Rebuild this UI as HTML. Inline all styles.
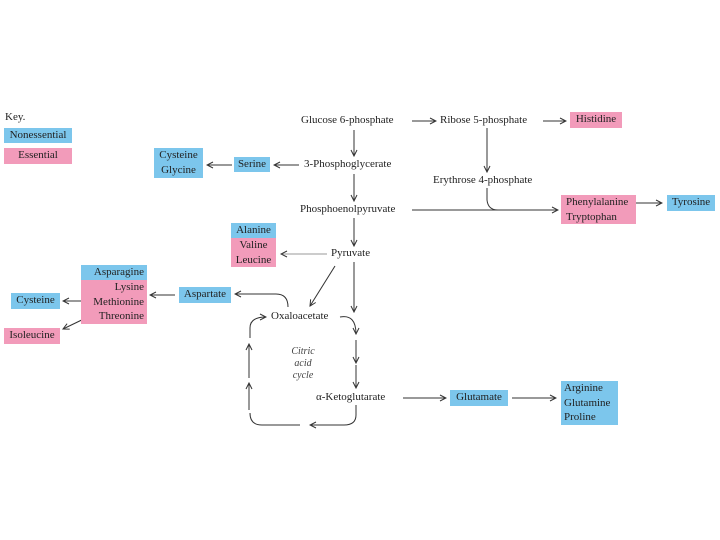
<!DOCTYPE html><html><head><style>
body{margin:0;width:720px;height:540px;background:#fff;position:relative;overflow:hidden;font-family:"Liberation Serif",serif;font-size:11px;color:#222}
.t{position:absolute;white-space:nowrap;line-height:15px}
.b{background:#7cc6ec}.p{background:#f29bba}
.bx{position:absolute;line-height:14.5px}
</style></head><body>
<svg width="720" height="540" style="position:absolute;left:0;top:0" fill="none" stroke="#333" stroke-width="1">
<defs><marker id="a" markerWidth="8" markerHeight="8" refX="7" refY="4" orient="auto" markerUnits="userSpaceOnUse"><path d="M1,1 L7,4 L1,7" stroke="#333" fill="none"/></marker></defs>
<g marker-end="url(#a)">
<line x1="412" y1="121" x2="436" y2="121"/>
<line x1="543" y1="121" x2="566" y2="121"/>
<line x1="354" y1="130" x2="354" y2="156"/>
<line x1="299" y1="165" x2="274" y2="165"/>
<line x1="232" y1="165" x2="207" y2="165"/>
<line x1="354" y1="174" x2="354" y2="201"/>
<line x1="412" y1="210" x2="558" y2="210"/>
<line x1="487" y1="128" x2="487" y2="172"/>
<line x1="354" y1="218" x2="354" y2="246"/>
<line x1="327" y1="254" x2="281" y2="254" stroke="#999"/>
<line x1="354" y1="262" x2="354" y2="312"/>
<line x1="335" y1="266" x2="310" y2="306"/>
<path d="M288,307 Q288,294 276,294 L235,294"/>
<line x1="175" y1="295" x2="150" y2="295"/>
<line x1="86" y1="301" x2="63" y2="301"/>
<line x1="90" y1="316" x2="63" y2="329"/>
<path d="M340,317 Q356,314 356,334"/>
<line x1="356" y1="340" x2="356" y2="363"/>
<line x1="356" y1="365" x2="356" y2="388"/>
<path d="M356,405 L356,415 Q356,425 344,425 L310,425"/>
<line x1="249" y1="410" x2="249" y2="383"/>
<line x1="249" y1="378" x2="249" y2="344"/>
<path d="M250,338 L250,328 Q250,317 266,317"/>
<line x1="403" y1="398" x2="446" y2="398"/>
<line x1="512" y1="398" x2="556" y2="398"/>
<line x1="610" y1="203" x2="662" y2="203"/>
</g>
<path d="M487,188 L487,200 Q488,210 498,210"/>
<path d="M300,425 L262,425 Q250,425 250,413"/>
</svg>
<div class="t" style="left:5px;top:110px">Key.</div>
<div class="t b" style="left:4px;top:128px;width:68px;text-align:center">Nonessential</div>
<div class="t p" style="left:4px;top:148px;width:68px;text-align:center;height:16px">Essential</div>
<div class="bx b" style="left:154px;top:148px;width:49px;height:30px;text-align:center">Cysteine<br>Glycine</div>
<div class="t b" style="left:234px;top:157px;width:36px;text-align:center">Serine</div>
<div class="t" style="left:301px;top:113px">Glucose 6-phosphate</div>
<div class="t" style="left:440px;top:113px">Ribose 5-phosphate</div>
<div class="t p" style="left:570px;top:112px;width:52px;text-align:center;height:16px">Histidine</div>
<div class="t" style="left:304px;top:157px">3-Phosphoglycerate</div>
<div class="t" style="left:433px;top:173px">Erythrose 4-phosphate</div>
<div class="t" style="left:300px;top:202px">Phosphoenolpyruvate</div>
<div class="bx p" style="left:561px;top:195px;width:70px;height:29px;padding-left:5px">Phenylalanine<br>Tryptophan</div>
<div class="t b" style="left:667px;top:195px;width:48px;text-align:center;height:16px">Tyrosine</div>
<div class="bx b" style="left:231px;top:223px;width:45px;height:15px;text-align:center">Alanine</div>
<div class="bx p" style="left:231px;top:238px;width:45px;height:29px;text-align:center">Valine<br>Leucine</div>
<div class="t" style="left:331px;top:246px">Pyruvate</div>
<div class="t b" style="left:179px;top:287px;width:52px;text-align:center;height:16px">Aspartate</div>
<div class="bx b" style="left:81px;top:265px;width:66px;height:15px;text-align:right"><span style="padding-right:3px">Asparagine</span></div>
<div class="bx p" style="left:81px;top:280px;width:63px;height:44px;text-align:right;padding-right:3px">Lysine<br>Methionine<br>Threonine</div>
<div class="t b" style="left:11px;top:293px;width:49px;text-align:center;height:16px">Cysteine</div>
<div class="t p" style="left:4px;top:328px;width:56px;text-align:center;height:16px">Isoleucine</div>
<div class="t" style="left:271px;top:309px">Oxaloacetate</div>
<div class="bx" style="left:285px;top:346px;width:36px;text-align:center;font-style:italic;font-size:10px;line-height:12px;color:#444">Citric<br>acid<br>cycle</div>
<div class="t" style="left:316px;top:390px">α-Ketoglutarate</div>
<div class="t b" style="left:450px;top:390px;width:58px;text-align:center;height:16px">Glutamate</div>
<div class="bx b" style="left:561px;top:381px;width:54px;height:44px;padding-left:3px">Arginine<br>Glutamine<br>Proline</div>
</body></html>
